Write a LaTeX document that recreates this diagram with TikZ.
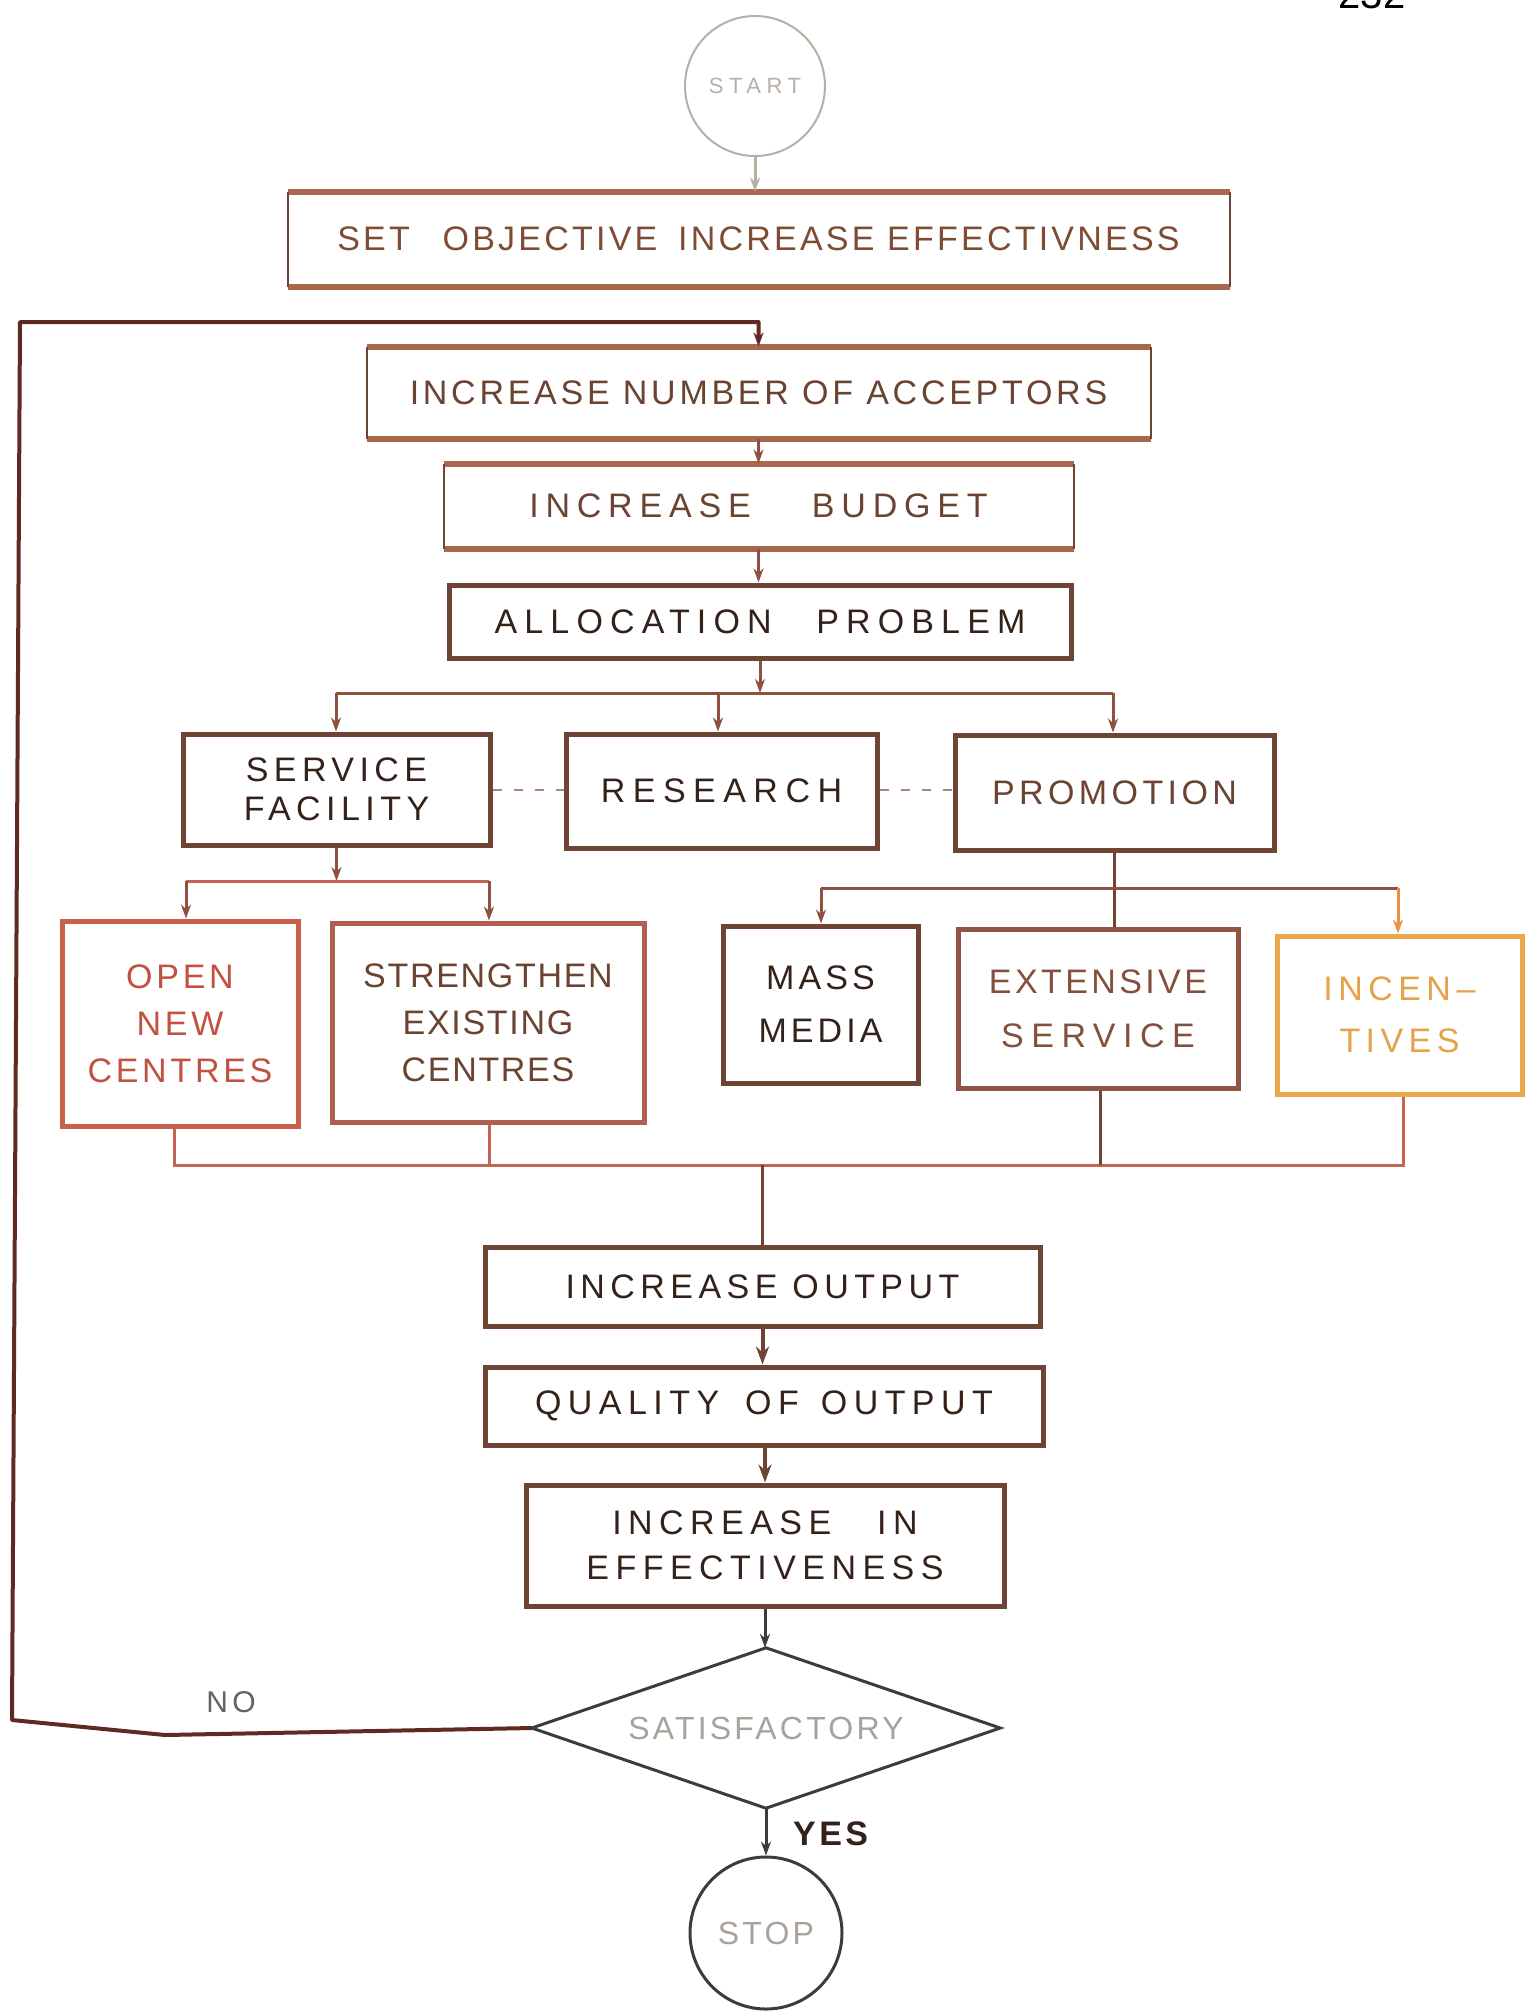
\documentclass[tikz,border=0pt]{standalone}
\usepackage{fontspec}
\setmainfont{Liberation Sans}
\usetikzlibrary{arrows.meta}
\newcommand\Fsz[2]{\fontsize{#1}{#2}\selectfont}
\newcommand\Trk[1]{\addfontfeature{LetterSpace=#1}}

\definecolor{edgeA}{HTML}{A8684C}
\definecolor{edgeB}{HTML}{6E4434}
\definecolor{edgeR}{HTML}{C8604A}
\definecolor{edgeS}{HTML}{B06050}
\definecolor{edgeE}{HTML}{8E5444}
\definecolor{edgeO}{HTML}{EBA84A}
\definecolor{inkD}{HTML}{34211A}
\definecolor{inkM}{HTML}{6A4331}
\definecolor{inkT}{HTML}{7E4C34}
\definecolor{inkR}{HTML}{C0523F}
\definecolor{inkE}{HTML}{84503E}
\definecolor{inkO}{HTML}{E6A24A}
\definecolor{inkG}{HTML}{A8A29A}
\definecolor{wire}{HTML}{8E5040}
\definecolor{wireR}{HTML}{C46452}
\definecolor{loopc}{HTML}{5E2A22}
\definecolor{startc}{HTML}{B8B0A4}
\definecolor{darkc}{HTML}{3C3C3C}

\begin{document}
\begin{tikzpicture}[x=1pt, y=-1pt,
  box/.style={rectangle, inner sep=0pt, align=center, draw=#1, line width=5pt},
  box/.default=edgeB,
  lbl/.style={inner sep=0pt, align=center},
  conn/.style={draw=wire, line width=3pt},
  arr/.style={conn, -{Stealth[length=14pt,width=10pt]}},
  bigarr/.style={draw=edgeB, line width=4pt, -{Stealth[length=18pt,width=13pt]}},
  dashlink/.style={draw=wire!70, line width=2pt, dash pattern=on 9pt off 12pt}
]
\useasboundingbox (0,0) rectangle (1525,2011);
\fill[white] (0,0) rectangle (1525,2011);

% page number, cut by the top edge
\node[lbl, anchor=south, text=black, font=\Fsz{40}{40}] (pg) at (1372,9) {232};

% terminals
\node[lbl, circle, draw=startc, line width=2pt, minimum size=140pt, text=startc, font=\Fsz{22}{22}\Trk{25}] (start) at (755,86) {START};

% main column
\node[box, draw=none, minimum width=937pt, minimum height=90pt, text=inkT, font=\Fsz{34}{40}\Trk{9.5}] (obj) at (758.5,239)
  {SET\hspace{20pt} OBJECTIVE\hspace{8pt} INCREASE EFFECTIVNESS};
\node[box, draw=none, minimum width=779pt, minimum height=87pt, text=inkM, font=\Fsz{34}{40}\Trk{11}] (acc) at (758.5,392.5)
  {INCREASE NUMBER OF ACCEPTORS};
\node[box, draw=none, minimum width=625pt, minimum height=80pt, text=inkM, font=\Fsz{34}{40}\Trk{20}] (bud) at (758.5,506)
  {INCREASE\hspace{45pt} BUDGET};
\node[box, minimum width=622pt, minimum height=73pt, text=inkD, font=\Fsz{34}{40}\Trk{21}] (alloc) at (760,621.5)
  {ALLOCATION\hspace{28pt} PROBLEM};

\foreach \n in {obj,acc,bud}{
  \draw[edgeA, line width=6pt] (\n.north west) -- (\n.north east) (\n.south west) -- (\n.south east);
  \draw[edgeB, line width=2pt] (\n.north west) -- (\n.south west) (\n.north east) -- (\n.south east);
}

% second level
\node[box, minimum width=307pt, minimum height=111pt, text=inkD, font=\Fsz{34}{39}\Trk{16}] (sf) at (336.5,789.5)
  {SERVICE\\FACILITY};
\node[box, minimum width=311pt, minimum height=114pt, text=inkD, font=\Fsz{34}{40}\Trk{22}] (res) at (721.5,791)
  {RESEARCH};
\node[box, minimum width=319pt, minimum height=115pt, text=inkM, font=\Fsz{34}{40}\Trk{13}] (pro) at (1114.5,792.5)
  {PROMOTION};

% third level
\node[box=edgeR, minimum width=236pt, minimum height=205pt, text=inkR, font=\Fsz{34}{47}\Trk{11}] (onc) at (180,1023.5)
  {OPEN\\NEW\\CENTRES};
\node[box=edgeS, minimum width=312pt, minimum height=199pt, text=inkM, font=\Fsz{34}{47}\Trk{5}] (sec) at (488,1022.5)
  {STRENGTHEN\\EXISTING\\CENTRES};
\node[box, minimum width=195pt, minimum height=157pt, text=inkD, font=\Fsz{34}{53}\Trk{12}] (mm) at (820.5,1004.5)
  {MASS\\MEDIA};
\node[box=edgeE, minimum width=280pt, minimum height=159pt, text=inkE, font=\Fsz{34}{54}\Trk{10}] (ext) at (1098,1008.5)
  {EXTENSIVE\\\Trk{22}SERVICE};
\node[box=edgeO, minimum width=245pt, minimum height=158pt, text=inkO, font=\Fsz{34}{52}\Trk{16}] (inc) at (1399.5,1015)
  {INCEN\,--\\TIVES};

% lower column
\node[box, minimum width=555pt, minimum height=79pt, text=inkD, font=\Fsz{34}{40}\Trk{16}] (out) at (762.5,1286.5)
  {INCREASE OUTPUT};
\node[box, minimum width=558pt, minimum height=78pt, text=inkD, font=\Fsz{34}{40}\Trk{19}] (qual) at (764,1406)
  {QUALITY\hspace{10pt} OF\hspace{6pt} OUTPUT};
\node[box, minimum width=478pt, minimum height=121pt, text=inkD, font=\Fsz{34}{45}\Trk{19}] (eff) at (765,1545.5)
  {INCREASE\hspace{30pt} IN\\EFFECTIVENESS};

% decision
\node[lbl, minimum width=468pt, minimum height=160pt, text=inkG, font=\Fsz{32}{32}\Trk{10}] (dia) at (766,1728)
  {SATISFACTORY};
\draw[darkc, line width=3pt, line join=miter] (dia.west) -- (dia.north) -- (dia.east) -- (dia.south) -- cycle;

\node[lbl, circle, draw=darkc, line width=3pt, minimum size=152pt, text=inkG, font=\Fsz{32}{32}\Trk{10}] (stop) at (766,1933)
  {STOP};

\node[lbl, anchor=west, text=inkD, font=\Fsz{34}{34}\bfseries\Trk{10}] (yes) at (793,1834) {YES};
\node[lbl, text=darkc!80, font=\Fsz{30}{30}\Trk{15}] (no) at (231,1702) {NO};

% bus points
\coordinate (bA1) at (336,693);
\coordinate (bA2) at (1113,693);
\coordinate (bAm) at (718,693);
\coordinate (bB1) at (186,881);
\coordinate (bB2) at (489,881);
\coordinate (bC1) at (821,888);
\coordinate (bC2) at (1398,888);
\coordinate (bD1) at (174,1165);
\coordinate (bD2) at (489,1165);
\coordinate (bD3) at (1100,1165);
\coordinate (bD4) at (1403,1165);
\coordinate (bDm) at (762,1165);
\coordinate (fbTop) at (758.5,322);

% connectors, top half
\draw[arr, draw=startc] (start.south) -- (start.south |- obj.north);
\draw[arr] (acc.south) -- (bud.north);
\draw[arr] (bud.south) -- (bud.south |- alloc.north);
\draw[arr] (alloc.south) -- (alloc.south |- bA1);
\draw[conn] (bA1) -- (bA2);
\draw[arr] (bA1) -- (bA1 |- sf.north);
\draw[arr] (bAm) -- (bAm |- res.north);
\draw[arr] (bA2) -- (bA2 |- pro.north);
\draw[dashlink] (sf.east |- 0,790) -- (res.west |- 0,790);
\draw[dashlink] (res.east |- 0,790) -- (pro.west |- 0,790);

% service facility branch
\draw[arr] (sf.south) -- (sf.south |- bB1);
\draw[conn, draw=wireR] (bB1) -- (bB2);
\draw[arr] (bB1) -- (bB1 |- onc.north);
\draw[arr] (bB2) -- (bB2 |- sec.north);

% promotion branch
\draw[conn, draw=edgeB] (pro.south) -- (pro.south |- ext.north);
\draw[conn] (bC1) -- (bC2);
\draw[arr] (bC1) -- (bC1 |- mm.north);
\draw[arr, draw=edgeO!85!red] (bC2) -- (bC2 |- inc.north);

% gathering line
\draw[conn, draw=wireR] (bD1 |- onc.south) -- (bD1) -- (bD4) -- (bD4 |- inc.south);
\draw[conn, draw=wireR] (bD2 |- sec.south) -- (bD2);
\draw[conn, draw=edgeB] (bD3 |- ext.south) -- (bD3);
\draw[conn, draw=edgeB] (bDm) -- (bDm |- out.north);

% lower column
\draw[bigarr] (out.south) -- (out.south |- qual.north);
\draw[bigarr] (qual.south -| eff.north) -- (eff.north);
\draw[arr, draw=darkc] (eff.south) -- (eff.south |- dia.north);
\draw[arr, draw=darkc] (dia.south) -- (stop.north);

% return path for NO
\draw[draw=loopc, line width=4pt, line join=round, -{Stealth[length=14pt,width=10pt]}]
  (dia.west) -- (165,1735) -- (12,1720) -- (20,322) -- (fbTop) -- (acc.north);
\end{tikzpicture}
\end{document}
